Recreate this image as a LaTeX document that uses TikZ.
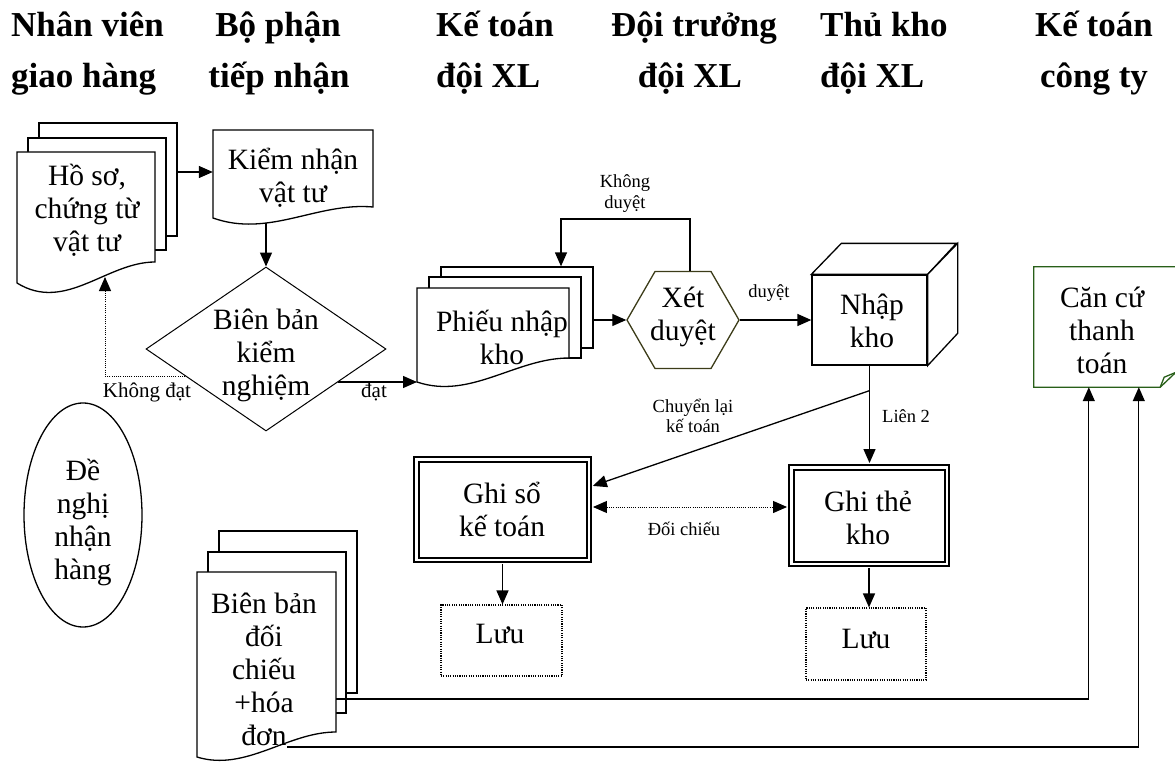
\documentclass[tikz,border=0pt]{standalone}
\usepackage{fontspec}
\setmainfont{Liberation Serif}
\usetikzlibrary{arrows.meta,shapes.geometric,calc}
\definecolor{hexcol}{RGB}{60,60,25}
\definecolor{notecol}{RGB}{40,95,25}
% front page of a document shape: L T R Bl Br e1 e2
\newcommand{\docfront}[7]{\draw[line width=1.3pt,fill=white] (#1,#2) -- (#3,#2) -- (#3,#5) .. controls ({#1+0.65*(#3-#1)},{#5-#6}) and ({#1+0.35*(#3-#1)},{#4+#7}) .. (#1,#4) -- cycle;}
\begin{document}
\begin{tikzpicture}[x=1pt,y=-1pt,
  page/.style={draw=black,line width=1.3pt,fill=white,rectangle,inner sep=0pt},
  txt/.style={font=\fontsize{29.5}{33}\selectfont,align=center,inner sep=0pt},
  hdr/.style={font=\fontsize{35}{40}\selectfont\bfseries,inner sep=0pt},
  lbl/.style={font=\fontsize{18.5}{20.5}\selectfont,align=center,inner sep=0pt},
  lblb/.style={font=\fontsize{21}{24}\selectfont,inner sep=0pt},
  tip/.style={-{Triangle[length=14pt,width=12pt]}},
  arr/.style={line width=1.3pt,tip},
  dotl/.style={line width=1pt,dash pattern=on 1pt off 1.2pt},
  dblbox/.style={rectangle,draw=black,line width=2pt,double=white,double distance=2.5pt,inner sep=0pt},
  luubox/.style={rectangle,draw=black,line width=1.1pt,dash pattern=on 1.1pt off 1.2pt,inner sep=0pt},
  ghost/.style={inner sep=0pt,rectangle}
]
\useasboundingbox (0,0) rectangle (1175,762);

% headers
\node[hdr,anchor=base west] (h1a) at (11,37) {Nhân viên};
\node[hdr,anchor=base west] (h1b) at (11,88) {giao hàng};
\node[hdr,anchor=base] (h2a) at (278,37) {Bộ phận};
\node[hdr,anchor=base] (h2b) at (279,88) {tiếp nhận};
\node[hdr,anchor=base west] (h3a) at (436,37) {Kế toán};
\node[hdr,anchor=base west] (h3b) at (436,88) {đội XL};
\node[hdr,anchor=base] (h4a) at (694,37) {Đội trưởng};
\node[hdr,anchor=base] (h4b) at (690,88) {đội XL};
\node[hdr,anchor=base west] (h5a) at (820,37) {Thủ kho};
\node[hdr,anchor=base west] (h5b) at (820,88) {đội XL};
\node[hdr,anchor=base] (h6a) at (1094,37) {Kế toán};
\node[hdr,anchor=base] (h6b) at (1094,88) {công ty};

% Ho so chung tu vat tu
\node[page,minimum width=138,minimum height=113] (hosoP3) at (108,179.5) {};
\node[page,minimum width=138,minimum height=112] (hosoP2) at (97,194) {};
\docfront{17}{152}{155}{283}{262}{0}{30}
\node[txt] (hoso) at (87,210) {Hồ sơ,\\chứng từ\\vật tư};
\coordinate (hosoB) at (105,277);

% Kiem nhan vat tu
\docfront{213}{130}{373}{218}{207}{5}{20}
\node[ghost,minimum width=160,minimum height=84] (kiemS) at (293,172) {};
\node[txt] (kiem) at (293,178) {Kiểm nhận\\vật tư};
\coordinate (kiemB) at (266,223);

% Bien ban kiem nghiem
\node[draw,diamond,line width=1pt,minimum width=240,minimum height=164,inner sep=0pt] (bbkn) at (266,349) {};
\node[txt] (bbknT) at (266,355) {Biên bản\\kiểm\\nghiệm};

% Phieu nhap kho
\node[page,minimum width=152,minimum height=81] (phieuP3) at (517,307.5) {};
\node[page,minimum width=152,minimum height=81] (phieuP2) at (505,317.5) {};
\docfront{417}{288}{569}{382}{358}{0}{18}
\node[txt] (phieu) at (502,337) {Phiếu nhập\\kho};
\coordinate (phieuBL) at (417,381);

% Xet duyet
\node[draw=hexcol,regular polygon,regular polygon sides=6,minimum size=112,inner sep=0pt,line width=1.3pt] (xet) at (683,320) {};
\node[txt] (xetT) at (683,317) {Xét\\duyệt};

% Nhap kho (cube)
\node[draw,line width=1.3pt,fill=white,minimum width=115,minimum height=90,inner sep=0pt] (nhap) at (869.5,320) {};
\draw[line width=1.3pt,fill=white] (nhap.north west) -- ++(30,-31) -- ++(115,0) -- (nhap.north east) -- cycle;
\draw[line width=1.3pt,fill=white] (nhap.north east) -- ++(30,-31) -- ++(0,90) -- (nhap.south east) -- cycle;
\node[txt] (nhapT) at (872,321) {Nhập\\kho};

% Can cu thanh toan
\node[ghost,minimum width=146,minimum height=120] (can) at (1107,327) {};
\draw[notecol,line width=1.3pt,fill=white] (can.north west) -- (can.north east) -- ($(can.south east)+(0,-19)$) -- ($(can.south east)+(-20,0)$) -- (can.south west) -- cycle;
\draw[notecol,line width=1.3pt] ($(can.south east)+(-20,0)$) -- ($(can.south east)+(-16,-10)$) -- ($(can.south east)+(-4,-15)$);
\node[txt] (canT) at (1102,330) {Căn cứ\\thanh\\toán};
\coordinate (canA) at ($(can.south west)+(55,0)$);
\coordinate (canB) at ($(can.south west)+(105,0)$);

% Ghi so / Ghi the
\node[dblbox,minimum width=172.5,minimum height=100.5] (ghiso) at (502.5,509.5) {};
\node[txt] (ghisoT) at (502,509) {Ghi sổ\\kế toán};
\node[dblbox,minimum width=155.5,minimum height=96.5] (ghithe) at (869,515.5) {};
\node[txt] (ghitheT) at (868,518) {Ghi thẻ\\kho};

% Luu
\node[luubox,minimum width=121,minimum height=71] (luu1) at (501.5,640.5) {};
\node[txt,anchor=base] (luu1T) at (500,643) {Lưu};
\node[luubox,minimum width=120,minimum height=72] (luu2) at (866,644) {};
\node[txt,anchor=base] (luu2T) at (866,648) {Lưu};

% De nghi nhan hang
\node[draw,ellipse,line width=1.3pt,minimum width=118,minimum height=224,inner sep=0pt] (denghi) at (83,515) {};
\node[txt] (denghiT) at (83,522) {Đề\\nghị\\nhận\\hàng};

% Bien ban doi chieu + hoa don
\node[page,minimum width=138,minimum height=162] (bbdcP3) at (288,612) {};
\node[page,minimum width=138,minimum height=161] (bbdcP2) at (277,632.5) {};
\docfront{197}{572}{336}{757}{732}{0}{15}
\node[txt] (bbdcT) at (264,669) {Biên bản\\đối\\chiếu\\+hóa\\đơn};
\coordinate (bbA) at (336,699);
\coordinate (bbB) at (287,747);

% connectors
\draw[arr] (kiemS.west -| hosoP3.east) -- (kiemS.west);
\draw[arr] (kiemB) -- (bbkn.north);
\coordinate (kdStart) at ($(bbkn.west)!0.33!(bbkn.south)$);
\draw[dotl,tip] (kdStart) -| (hosoB);
\node[lblb,anchor=base] (lkd) at (147,397) {Không đạt};
\coordinate (datStart) at ($(bbkn.east)!0.4!(bbkn.south)$);
\draw[arr] (datStart) -- (datStart -| phieuBL);
\node[lblb,anchor=base] (ldat) at (374,397) {đạt};

\draw[arr] (xet.west -| phieuP3.east) -- (xet.west);
\coordinate (kdc) at (561,219);
\draw[arr] ($(xet.north)+(7,0)$) |- (kdc) -- (kdc |- phieuP3.north);
\node[lbl] (lkdu) at (625,193.5) {Không\\duyệt};

\draw[arr] (xet.east) -- (xet.east -| nhap.west);
\node[lbl,anchor=base] (ldu) at (769,297) {duyệt};

\coordinate (br) at ($(nhap.south)+(0,25)$);
\draw[arr,shorten >=3.2pt] (nhap.south) -- (nhap.south |- ghithe.north);
\draw[arr,shorten >=3.2pt] (br) -- ($(ghiso.north east)!0.28!(ghiso.south east)$);
\node[lbl] (lcl) at (693,416) {Chuyển lại\\kế toán};
\node[lbl,anchor=base west] (ll2) at (882,422) {Liên 2};

\coordinate (dcA) at ($(ghiso.east)+(0,-2.5)$);
\draw[dotl,{Triangle[length=14pt,width=12pt]}-{Triangle[length=14pt,width=12pt]},shorten <=3.2pt,shorten >=3.2pt] (dcA) -- (dcA -| ghithe.west);
\node[lbl,anchor=base] (ldc) at (684,535) {Đối chiếu};

\draw[arr,shorten <=3.2pt] (ghiso.south) -- (ghiso.south |- luu1.north);
\draw[arr,shorten <=3.2pt] (ghithe.south) -- (ghithe.south |- luu2.north);

\draw[arr] (bbA) -| (canA);
\draw[arr] (bbB) -| (canB);
\end{tikzpicture}
\end{document}
